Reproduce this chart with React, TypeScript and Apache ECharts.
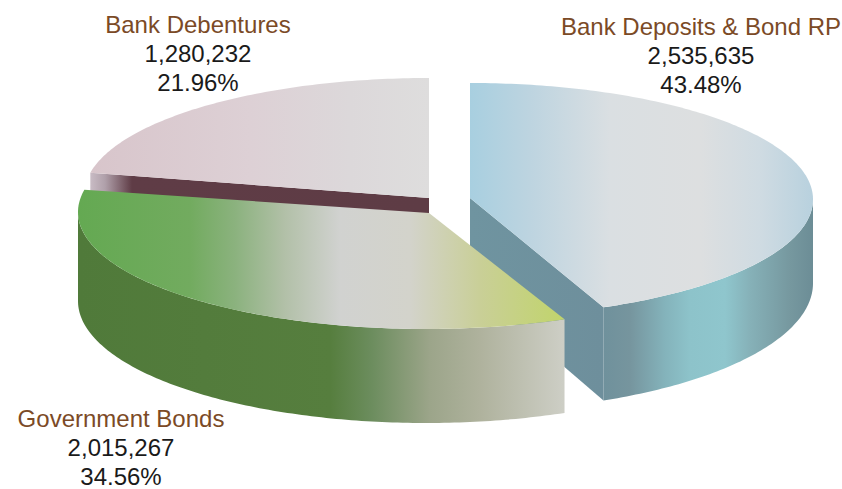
import React, { useEffect, useRef } from "react";
import * as echarts from "echarts";

// Portfolio holdings, clockwise from twelve o'clock
const categories = ["Bank Deposits & Bond RP", "Government Bonds", "Bank Debentures"];
const holdings = [2535635, 2015267, 1280232];

const LABEL_COLOR = "#7b4a26";
const VALUE_COLOR = "#1a1a1a";
const FONT = '24px "Liberation Sans", Arial, sans-serif';

type Stop = [number, string];
type Wedge = {
  cx: number; cy: number; rx: number; ry: number; lean: number; apexX: number; apexY: number;
  sideDepth: number; frontDepth: number; layer: number;
  top: Stop[]; rim: Stop[]; cut: Stop[];
  label: { x: number; y: number };
};

// Exploded wedges: each has its own ellipse, and a wall that deepens toward the viewer
const wedges: Wedge[] = [
  {
    cx: 470, cy: 200, rx: 345, ry: 117, lean: 2, apexX: 470, apexY: 198, sideDepth: 84, frontDepth: 94, layer: 1,
    top: [[470, "#a8cfe0"], [530, "#bdd4e0"], [610, "#dadfe2"], [700, "#dddfe0"], [760, "#cfdbe2"], [813, "#b8d1de"]],
    rim: [[603, "#6f919c"], [630, "#76959e"], [665, "#84b3bb"], [690, "#8dc3ca"], [725, "#8fc6cd"], [750, "#86b1b8"], [790, "#76989f"], [813, "#6c8d96"]],
    cut: [[470, "#6f94a0"], [603, "#6e8f9c"]],
    label: { x: 701, y: 26 },
  },
  {
    cx: 426, cy: 212, rx: 348, ry: 117, lean: 0, apexX: 429, apexY: 213, sideDepth: 89, frontDepth: 94, layer: 2,
    top: [[78, "#64a952"], [190, "#72ab5f"], [235, "#8bb27e"], [285, "#b2c0a8"], [340, "#d1d2d0"], [410, "#d3d3cb"], [480, "#c9cf97"], [563, "#c1d46c"]],
    rim: [[78, "#507a3a"], [330, "#567e3e"], [372, "#6c8d5e"], [430, "#9ca58a"], [480, "#afb29d"], [563, "#cdcec5"]],
    cut: [[78, "#507a3a"], [563, "#507a3a"]],
    label: { x: 121, y: 418.5 },
  },
  {
    cx: 429, cy: 195, rx: 345, ry: 117, lean: 0, apexX: 429, apexY: 198, sideDepth: 60, frontDepth: 60, layer: 0,
    top: [[90, "#d8c5cb"], [250, "#ddd0d5"], [350, "#dcd8da"], [430, "#dedddd"]],
    rim: [[90, "#c9bcc5"], [105, "#b6a4ad"], [130, "#5f3c46"], [430, "#5e3c45"]],
    cut: [[90, "#c9bcc5"], [105, "#b0a0aa"], [132, "#5f3c46"], [430, "#5e3c45"]],
    label: { x: 198, y: 24 },
  },
];

const total = holdings.reduce((a, b) => a + b, 0);
const startAngle = (i: number) =>
  (holdings.slice(0, i).reduce((a, b) => a + b, 0) / total) * 2 * Math.PI;

const sweep = (stops: Stop[]) => {
  const x0 = stops[0][0];
  const x1 = stops[stops.length - 1][0];
  return {
    type: "linear", x: x0, y: 0, x2: x1, y2: 0, global: true,
    colorStops: stops.map(([x, color]) => ({ offset: (x - x0) / (x1 - x0), color })),
  };
};

const rimPoint = (w: Wedge, a: number, below = false) => {
  const front = Math.max(0, -Math.cos(a));
  const depth = below ? w.sideDepth + (w.frontDepth - w.sideDepth) * front : 0;
  return [
    w.cx + w.rx * Math.sin(a) - w.lean * (1 - Math.cos(a)),
    w.cy - w.ry * Math.cos(a) + depth,
  ];
};

const arcPoints = (w: Wedge, a0: number, a1: number, below = false) => {
  const n = Math.max(2, Math.ceil(Math.abs(a1 - a0) / 0.015));
  const pts: number[][] = [];
  for (let k = 0; k <= n; k++) pts.push(rimPoint(w, a0 + ((a1 - a0) * k) / n, below));
  return pts;
};

const renderWedge = (params: any, api: any) => {
  const i = params.dataIndex;
  const w = wedges[i];
  const value = api.value(0);
  const a0 = startAngle(i);
  const a1 = a0 + (value / total) * 2 * Math.PI;
  const z2 = w.layer * 10;
  const children: any[] = [];

  // Outer wall, only on the half of the rim that faces the viewer
  const v0 = Math.max(a0, Math.PI / 2);
  const v1 = Math.min(a1, (3 * Math.PI) / 2);
  if (v1 > v0 && w.layer > 0) {
    children.push({
      type: "polygon", z2,
      shape: { points: [...arcPoints(w, v0, v1), ...arcPoints(w, v1, v0, true)] },
      style: { fill: sweep(w.rim) },
    });
  }

  // Cut face along the radius that turns toward the viewer
  if (w.layer !== 2) {
    const edge = w.layer === 1 ? a1 : a0;
    const tip = rimPoint(w, edge);
    const tipLow = rimPoint(w, edge, true);
    children.push({
      type: "polygon", z2: z2 + 1,
      shape: {
        points: [
          [w.apexX, w.apexY], tip, tipLow,
          [w.apexX, w.apexY + w.sideDepth + 4],
        ],
      },
      style: { fill: sweep(w.cut) },
    });
  }

  // Top face
  children.push({
    type: "polygon", z2: z2 + 2,
    shape: { points: [[w.apexX, w.apexY], ...arcPoints(w, a0, a1)] },
    style: { fill: sweep(w.top) },
  });

  // Caption: name, amount, share
  const lines = [
    [categories[i], LABEL_COLOR],
    [value.toLocaleString("en-US"), VALUE_COLOR],
    [((value / total) * 100).toFixed(2) + "%", VALUE_COLOR],
  ];
  lines.forEach(([text, fill], k) => {
    children.push({
      type: "text", z2: 50,
      style: {
        text, fill, font: FONT, x: w.label.x, y: w.label.y + k * 29,
        textAlign: "center", textVerticalAlign: "middle",
      },
    });
  });

  return { type: "group", children };
};

export default function App() {
  const ref = useRef<HTMLDivElement>(null);
  useEffect(() => {
    const chart = echarts.init(ref.current!, undefined, { renderer: "svg" });
    chart.setOption({
      animation: false,
      backgroundColor: "#ffffff",
      series: [
        {
          type: "custom",
          coordinateSystem: "none",
          silent: true,
          data: holdings.map((v) => [v]),
          renderItem: renderWedge,
        },
      ],
    });
    return () => chart.dispose();
  }, []);
  return (
    <div
      ref={ref}
      style={{ position: "fixed", left: 0, top: 0, width: 842, height: 489 }}
    />
  );
}
